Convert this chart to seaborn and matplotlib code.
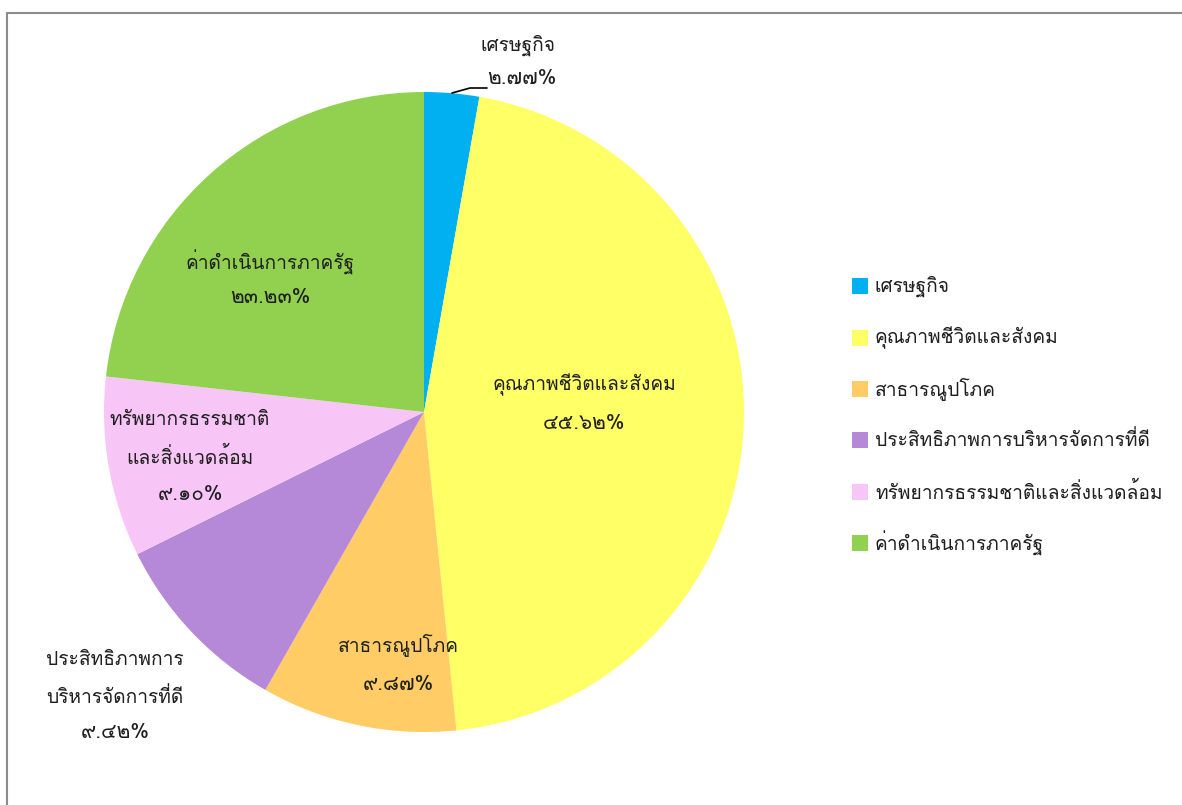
import matplotlib
matplotlib.use("Agg")
import matplotlib.pyplot as plt
import seaborn as sns

categories = ["เศรษฐกิจ", "คุณภาพชีวิตและสังคม", "สาธารณูปโภค",
              "ประสิทธิภาพการบริหารจัดการที่ดี", "ทรัพยากรธรรมชาติและสิ่งแวดล้อม",
              "ค่าดำเนินการภาครัฐ"]
values = [2.77, 45.62, 9.87, 9.42, 9.10, 23.23]
value_labels = ["๒.๗๗%", "๔๕.๖๒%", "๙.๘๗%", "๙.๔๒%", "๙.๑๐%", "๒๓.๒๓%"]
slice_labels = [["เศรษฐกิจ"], ["คุณภาพชีวิตและสังคม"], ["สาธารณูปโภค"],
                ["ประสิทธิภาพการ", "บริหารจัดการที่ดี"],
                ["ทรัพยากรธรรมชาติ", "และสิ่งแวดล้อม"],
                ["ค่าดำเนินการภาครัฐ"]]
colors = ["#00B0F0", "#FFFF66", "#FFCC66", "#B689D8", "#F7C6F6", "#92D050"]

sns.set_theme(style="white")
plt.rcParams["font.family"] = ["Loma", "Noto Sans Thai Looped", "DejaVu Sans"]

W, H = 1182, 805
fig = plt.figure(figsize=(W / 100, H / 100), dpi=100)
fig.patch.set_facecolor("white")

fig.add_artist(plt.Line2D([7 / W, 7 / W], [0, 1 - 13 / H], color="#8c8c8c", lw=1.5))
fig.add_artist(plt.Line2D([7 / W, 1], [1 - 13 / H, 1 - 13 / H], color="#8c8c8c", lw=1.5))

cx, cy, r = 424, 412, 320
ax = fig.add_axes([(cx - r) / W, 1 - (cy + r) / H, 2 * r / W, 2 * r / H])
wedges, _ = ax.pie(values, colors=colors, startangle=90, counterclock=False,
                   radius=1, wedgeprops=dict(linewidth=0))
ax.set_xlim(-1, 1)
ax.set_ylim(-1, 1)
ax.set_aspect("equal")
ax.axis("off")


def px(x, y):
    return ((x - cx) / r, (cy - y) / r)


fs = 13.8
fs_val = 15
tc = "#1f1f1f"
anchor = [(518, 45), (584, 385), (398, 645), (115, 660), (190, 420), (270, 262)]
value_gap = [33, 38, 39, 36, 37, 35]
for lines, vl, (x0, y0), vg in zip(slice_labels, value_labels, anchor, value_gap):
    y = y0
    for k, line in enumerate(lines):
        ax.text(*px(x0, y), line, ha="center", va="center", fontsize=fs, color=tc,
                clip_on=False)
        if k < len(lines) - 1:
            y += 37
    ax.text(*px(x0 + (4 if x0 == 518 else 0), y + vg), vl, ha="center", va="center",
            fontsize=fs_val, color=tc, clip_on=False)

lx = [px(452, 93)[0], px(470, 88)[0], px(487, 88)[0]]
ly = [px(452, 93)[1], px(470, 88)[1], px(487, 88)[1]]
ax.plot(lx, ly, color="black", lw=1.2, clip_on=False)

leg_y = [286, 338, 389, 440, 492, 543]
for c, name, yy in zip(colors, categories, leg_y):
    fig.patches.append(plt.Rectangle((852 / W, 1 - (yy + 8) / H), 16 / W, 16 / H,
                                     transform=fig.transFigure, color=c, lw=0))
    fig.text(875 / W, 1 - yy / H, name, ha="left", va="center", fontsize=fs, color=tc)

fig.savefig("out.png", dpi=100, facecolor="white")
